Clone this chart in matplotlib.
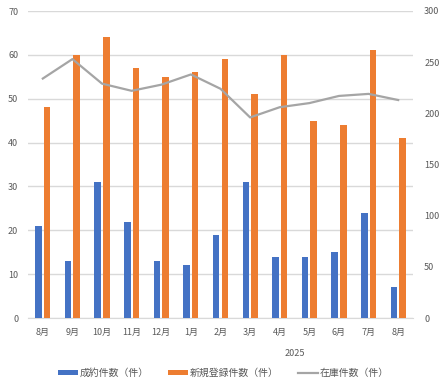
import matplotlib
matplotlib.use("Agg")
import matplotlib.pyplot as plt
import matplotlib.transforms as mtransforms
import numpy as np

plt.rcParams['font.family'] = ['Noto Sans CJK JP', 'DejaVu Sans']

months = ["8月", "9月", "10月", "11月", "12月", "1月", "2月", "3月", "4月", "5月", "6月", "7月", "8月"]
contracts = [21, 13, 31, 22, 13, 12, 19, 31, 14, 14, 15, 24, 7]
new_listings = [48, 60, 64, 57, 55, 56, 59, 51, 60, 45, 44, 61, 41]
inventory = [234, 253, 229, 222, 228, 238, 224, 196, 206, 210, 217, 219, 213]
year_label = "2025"
year_span = (5, 12)

label_contracts = "成約件数（件）"
label_new = "新規登録件数（件）"
label_inv = "在庫件数（件）"

c_blue = "#4472C4"
c_orange = "#ED7D31"
c_grey = "#A5A5A5"
c_text = "#595959"
c_grid = "#D9D9D9"

fig = plt.figure(figsize=(4.47, 3.92), dpi=100)
ax = fig.add_axes([28/447, 1-318/392, (413-28)/447, (318-11)/392])
ax2 = ax.twinx()

x = np.arange(len(months))
w = 0.22
off = 0.145
b1 = ax.bar(x - off, contracts, width=w, color=c_blue, label=label_contracts, zorder=3)
b2 = ax.bar(x + off, new_listings, width=w, color=c_orange, label=label_new, zorder=3)
l1, = ax2.plot(x, inventory, color=c_grey, lw=1.6, label=label_inv, zorder=4)

ax.set_ylim(0, 70)
ax.set_yticks(range(0, 71, 10))
ax2.set_ylim(0, 300)
ax2.set_yticks(range(0, 301, 50))
ax.set_xlim(-0.5, len(months) - 0.5)
ax.set_xticks(x)
ax.set_xticklabels(months)

ax.grid(axis='y', color=c_grid, lw=1, zorder=0)
ax.set_axisbelow(True)
for a in (ax, ax2):
    for s in a.spines.values():
        s.set_visible(False)
    a.tick_params(length=0, colors=c_text, labelsize=6.5)
ax.spines['bottom'].set_visible(True)
ax.spines['bottom'].set_color(c_grid)
ax.tick_params(axis='y', pad=7)
ax2.tick_params(axis='y', pad=8)
ax.tick_params(axis='x', pad=7)

trans = mtransforms.blended_transform_factory(ax.transData, ax.transAxes)
ax.text((year_span[0] + year_span[1]) / 2, -36/307, year_label, transform=trans,
        ha='center', va='center', fontsize=6.5, color=c_text)

leg = fig.legend(handles=[b1, b2, l1], loc='center', bbox_to_anchor=(0.5, 1-373/392),
                 ncol=3, frameon=False, fontsize=7.1, handlelength=2.0, handleheight=0.5,
                 columnspacing=2.0, handletextpad=0.15)
for t in leg.get_texts():
    t.set_color(c_text)

fig.savefig("out.png", dpi=100)
